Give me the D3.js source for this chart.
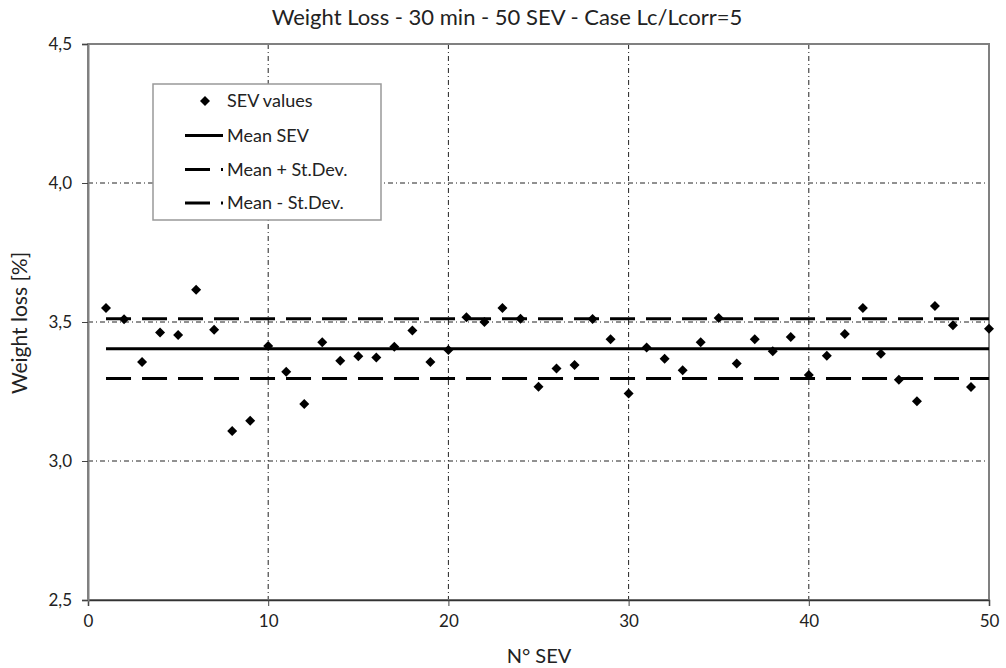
<!DOCTYPE html>
<html>
<head>
<meta charset="utf-8">
<script src="https://cdn.jsdelivr.net/npm/d3@7"></script>
<style>
  html, body { margin: 0; padding: 0; background: #fff; }
  svg { display: block; font-family: Lato, "Open Sans", sans-serif; }
</style>
</head>
<body>
<svg id="chart" width="1006" height="668"></svg>
<script>
// Sample numbers (N° SEV) and measured weight loss [%]
const sevNumbers = [1,2,3,4,5,6,7,8,9,10,11,12,13,14,15,16,17,18,19,20,
                    21,22,23,24,25,26,27,28,29,30,31,32,33,34,35,36,37,38,39,40,
                    41,42,43,44,45,46,47,48,49,50];
const weightLoss = [3.550,3.510,3.356,3.462,3.453,3.616,3.472,3.108,3.145,3.414,
                    3.321,3.205,3.427,3.361,3.377,3.372,3.411,3.469,3.356,3.399,
                    3.517,3.500,3.550,3.512,3.267,3.333,3.345,3.511,3.438,3.243,
                    3.408,3.368,3.326,3.427,3.514,3.351,3.438,3.395,3.446,3.309,
                    3.379,3.457,3.550,3.386,3.292,3.215,3.558,3.488,3.266,3.476];
const meanSEV = 3.404;
const stDev = 0.1075;

const xTicks = [0,10,20,30,40,50];
const yTicks = [2.5,3.0,3.5,4.0,4.5];
const legendLabels = ["SEV values","Mean SEV","Mean + St.Dev.","Mean - St.Dev."];

const titleText = "Weight Loss - 30 min - 50 SEV - Case Lc/Lcorr=5";
const xTitle = "N° SEV";
const yTitle = "Weight loss [%]";

const svg = d3.select("#chart");
const plot = {left: 88, right: 989, top: 44, bottom: 600};

const x = d3.scaleLinear().domain([0, 50]).range([plot.left, plot.right]);
const y = d3.scaleLinear().domain([2.5, 4.5]).range([plot.bottom, plot.top]);
const fmt = d => d3.format(".1f")(d).replace(".", ",");

// Grid (dash-dot)
const grid = svg.append("g").attr("stroke", "#222").attr("stroke-width", 1)
  .attr("stroke-dasharray", "5,3,1,3").attr("fill", "none");
grid.selectAll(".gx").data(xTicks.slice(1, -1)).join("line")
  .attr("x1", d => x(d)).attr("x2", d => x(d))
  .attr("y1", plot.top).attr("y2", plot.bottom);
grid.selectAll(".gy").data(yTicks.slice(1, -1)).join("line")
  .attr("x1", plot.left).attr("x2", plot.right)
  .attr("y1", d => y(d)).attr("y2", d => y(d));

// Plot frame
svg.append("rect")
  .attr("x", plot.left).attr("y", plot.top)
  .attr("width", plot.right - plot.left).attr("height", plot.bottom - plot.top)
  .attr("fill", "none").attr("stroke", "#808080").attr("stroke-width", 2);

// Axes
const xAxis = svg.append("g").attr("transform", `translate(0,${plot.bottom})`)
  .call(d3.axisBottom(x).tickValues(xTicks).tickSize(6).tickPadding(6).tickFormat(d3.format("d")));
const yAxis = svg.append("g").attr("transform", `translate(${plot.left},0)`)
  .call(d3.axisLeft(y).tickValues(yTicks).tickSize(6).tickPadding(10).tickFormat(fmt));
xAxis.select(".domain").attr("stroke", "#333").attr("stroke-width", 1.5);
yAxis.select(".domain").attr("stroke", "#808080").attr("stroke-width", 2);
[xAxis, yAxis].forEach(a => {
  a.selectAll(".tick line").attr("stroke", "#444");
  a.selectAll("text").attr("font-family", "Lato, 'Open Sans', sans-serif")
    .attr("font-size", 17).attr("fill", "#222");
});
xAxis.selectAll("text").attr("dy", "0.9em");

// Mean and mean ± st.dev. lines
const hLines = [
  {v: meanSEV, dash: null},
  {v: meanSEV + stDev, dash: "25,11"},
  {v: meanSEV - stDev, dash: "25,11"}
];
svg.append("g").selectAll("line").data(hLines).join("line")
  .attr("x1", x(sevNumbers[0])).attr("x2", x(sevNumbers[sevNumbers.length - 1]))
  .attr("y1", d => y(d.v)).attr("y2", d => y(d.v))
  .attr("stroke", "#000").attr("stroke-width", 3)
  .attr("stroke-dasharray", d => d.dash);

// SEV points
const diamond = d3.symbol().type(d3.symbolSquare).size(50);
svg.append("g").selectAll("path").data(sevNumbers).join("path")
  .attr("d", diamond)
  .attr("transform", (d, i) => `translate(${x(d)},${y(weightLoss[i])}) rotate(45)`)
  .attr("fill", "#000");

// Titles
svg.append("text").attr("x", 507).attr("y", 25).attr("text-anchor", "middle")
  .attr("font-size", 22).attr("fill", "#222").text(titleText);
svg.append("text").attr("x", 539).attr("y", 663).attr("text-anchor", "middle")
  .attr("font-size", 20).attr("fill", "#222").text(xTitle);
svg.append("text").attr("transform", "translate(27,323) rotate(-90)")
  .attr("text-anchor", "middle").attr("font-size", 21).attr("fill", "#222").text(yTitle);

// Legend
const lg = svg.append("g");
lg.append("rect").attr("x", 153).attr("y", 84).attr("width", 228).attr("height", 136)
  .attr("fill", "#fff").attr("stroke", "#999").attr("stroke-width", 1.5);
const rowY = [101, 135.5, 169.5, 203];
legendLabels.forEach((lab, i) => {
  const cy = rowY[i];
  if (i === 0) {
    lg.append("path").attr("d", diamond)
      .attr("transform", `translate(205,${cy}) rotate(45)`).attr("fill", "#000");
  } else {
    lg.append("line").attr("x1", 185).attr("x2", 223).attr("y1", cy).attr("y2", cy)
      .attr("stroke", "#000").attr("stroke-width", 3)
      .attr("stroke-dasharray", i === 1 ? null : "25,11");
  }
  lg.append("text").attr("x", 227).attr("y", cy).attr("dy", "0.35em")
    .attr("font-size", 18).attr("fill", "#222").text(lab);
});
</script>
</body>
</html>
